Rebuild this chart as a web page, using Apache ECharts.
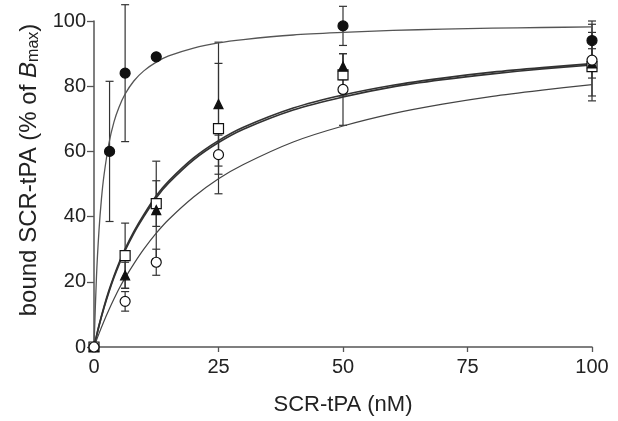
<!DOCTYPE html>
<html><head><meta charset="utf-8">
<script src="https://cdn.jsdelivr.net/npm/echarts@6/dist/echarts.min.js"></script>
<style>html,body{margin:0;padding:0;background:#fff}#c{width:618px;height:421px}</style>
</head><body><div id="c"></div>
<script>
// ---- data ----
const xTicks = [0, 25, 50, 75, 100];
const yTicks = [0, 20, 40, 60, 80, 100];

// fitted curves
const curveXFilled = [0, 0.5, 1, 1.5, 2, 3, 4, 5, 6.25, 8, 10, 12.5, 15, 20, 25, 30, 40, 50, 60, 70, 80, 90, 100];
const curveFilled  = [0, 21.7, 35.7, 45.5, 52.6, 62.5, 69.0, 73.5, 77.6, 81.6, 84.7, 87.4, 89.3, 91.7, 93.3, 94.3, 95.7, 96.5, 97.1, 97.5, 97.8, 98.0, 98.2];
const curveX       = [0, 1, 2, 3, 4, 5, 6.25, 8, 10, 12.5, 15, 20, 25, 30, 40, 50, 60, 70, 80, 90, 100];
const curveTri     = [0, 6.6, 12.3, 17.3, 21.7, 25.7, 30.1, 35.4, 40.6, 46.4, 50.9, 58.0, 63.3, 67.4, 73.3, 77.3, 80.3, 82.5, 84.3, 85.7, 86.9];
const curveSq      = [0, 6.4, 12.0, 16.9, 21.3, 25.2, 29.6, 34.9, 40.0, 45.8, 50.3, 57.4, 62.7, 66.8, 72.7, 76.7, 79.8, 82.0, 83.8, 85.3, 86.5];
const curveOpen    = [0, 4.1, 7.9, 11.4, 14.7, 17.8, 21.2, 25.5, 30.0, 34.9, 39.1, 46.0, 51.6, 56.0, 62.9, 67.8, 71.6, 74.5, 76.9, 78.8, 80.5];

// measured points (mean, error)
const filledX   = [3.125, 6.25, 12.5, 50, 100];
const filledY   = [60, 84, 89, 98.5, 94];
const filledErr = [21.5, 21, 0, 6, 6];

const ptsX    = [0, 6.25, 12.5, 25, 50, 100];
const triY    = [0, 22, 42, 74.5, 86, 87];
const triErr  = [0, 4, 15, 19, 4, 4.5];
const sqY     = [0, 28, 44, 67, 83.5, 86];
const sqErr   = [0, 10, 7, 20, 6.5, 10.5];
const openY   = [0, 14, 26, 59, 79, 88];
const openErr = [0, 3, 4, 6, 11, 11];

// ---- build ----
const FONT = 'Liberation Sans, Arial, sans-serif';
const INK = '#222';
const pairs = (xs, ys) => xs.map((x, i) => [x, ys[i]]);
const errData = (xs, ys, es) => xs.map((x, i) => [x, ys[i] - es[i], ys[i] + es[i]]).filter((d, i) => es[i] > 0);

function errSeries(data) {
  return {
    type: 'custom', data: data, clip: false, z: 2, silent: true,
    encode: { x: 0, y: [1, 2] },
    renderItem: function (params, api) {
      const x = api.value(0);
      const lo = api.coord([x, api.value(1)]);
      const hi = api.coord([x, api.value(2)]);
      const w = 4;
      const st = { stroke: '#333', lineWidth: 1.2 };
      return { type: 'group', children: [
        { type: 'line', shape: { x1: lo[0], y1: lo[1], x2: hi[0], y2: hi[1] }, style: st },
        { type: 'line', shape: { x1: lo[0] - w, y1: lo[1], x2: lo[0] + w, y2: lo[1] }, style: st },
        { type: 'line', shape: { x1: hi[0] - w, y1: hi[1], x2: hi[0] + w, y2: hi[1] }, style: st }
      ]};
    }
  };
}
function curve(xs, ys, w, c) {
  return { type: 'line', data: pairs(xs, ys), showSymbol: false, smooth: 0.3, z: 3, silent: true,
    lineStyle: { color: c, width: w }, clip: false };
}
function pts(xs, ys, symbol, size, fill) {
  return { type: 'scatter', data: pairs(xs, ys), symbol: symbol, symbolSize: size, z: 5, clip: false,
    itemStyle: { color: fill, borderColor: '#111', borderWidth: 1.2, opacity: 1 } };
}

const chart = echarts.init(document.getElementById('c'), null, { renderer: 'canvas' });
chart.setOption({
  animation: false,
  backgroundColor: '#fff',
  grid: { left: 94, right: 26, top: 21, bottom: 69, containLabel: false },
  xAxis: {
    type: 'value', min: 0, max: 100, interval: 25,
    name: 'SCR-tPA (nM)', nameLocation: 'middle', nameGap: 47,
    nameTextStyle: { fontFamily: FONT, fontSize: 22, color: INK },
    axisLine: { show: true, lineStyle: { color: '#555', width: 1.5 } },
    axisTick: { show: true, length: 5, lineStyle: { color: '#555', width: 1.3 } },
    axisLabel: { fontFamily: FONT, fontSize: 20, color: INK, margin: 10,
      formatter: v => xTicks.includes(v) ? String(v) : '' },
    splitLine: { show: false }
  },
  yAxis: {
    type: 'value', min: 0, max: 100, interval: 20,
    name: '{n|bound SCR-tPA (% of }{i|B}{s|max}{n|)}', nameLocation: 'middle', nameGap: 44,
    nameTextStyle: { fontFamily: FONT, fontSize: 24, color: INK, padding: [0, 0, 0, 28],
      rich: {
        n: { fontFamily: FONT, fontSize: 24, color: INK },
        i: { fontFamily: FONT, fontSize: 24, color: INK, fontStyle: 'italic' },
        s: { fontFamily: FONT, fontSize: 16, color: INK, verticalAlign: 'bottom', padding: [8, 0, 0, 0] }
      } },
    axisLine: { show: true, lineStyle: { color: '#555', width: 1.5 } },
    axisTick: { show: true, length: 7, lineStyle: { color: '#555', width: 1.3 } },
    axisLabel: { fontFamily: FONT, fontSize: 20, color: INK, margin: 8,
      formatter: v => yTicks.includes(v) ? String(v) : '' },
    splitLine: { show: false }
  },
  series: [
    errSeries(errData(filledX, filledY, filledErr)),
    errSeries(errData(ptsX, triY, triErr)),
    errSeries(errData(ptsX, sqY, sqErr)),
    errSeries(errData(ptsX, openY, openErr)),
    curve(curveXFilled, curveFilled, 1.3, '#555'),
    curve(curveX, curveTri, 1.7, '#333'),
    curve(curveX, curveSq, 1.7, '#333'),
    curve(curveX, curveOpen, 1.2, '#444'),
    pts(ptsX, sqY, 'rect', 10, '#fff'),
    pts(ptsX, triY, 'triangle', 9, '#111'),
    pts(ptsX, openY, 'circle', 10, '#fff'),
    pts(filledX, filledY, 'circle', 10, '#111')
  ]
});
</script></body></html>
